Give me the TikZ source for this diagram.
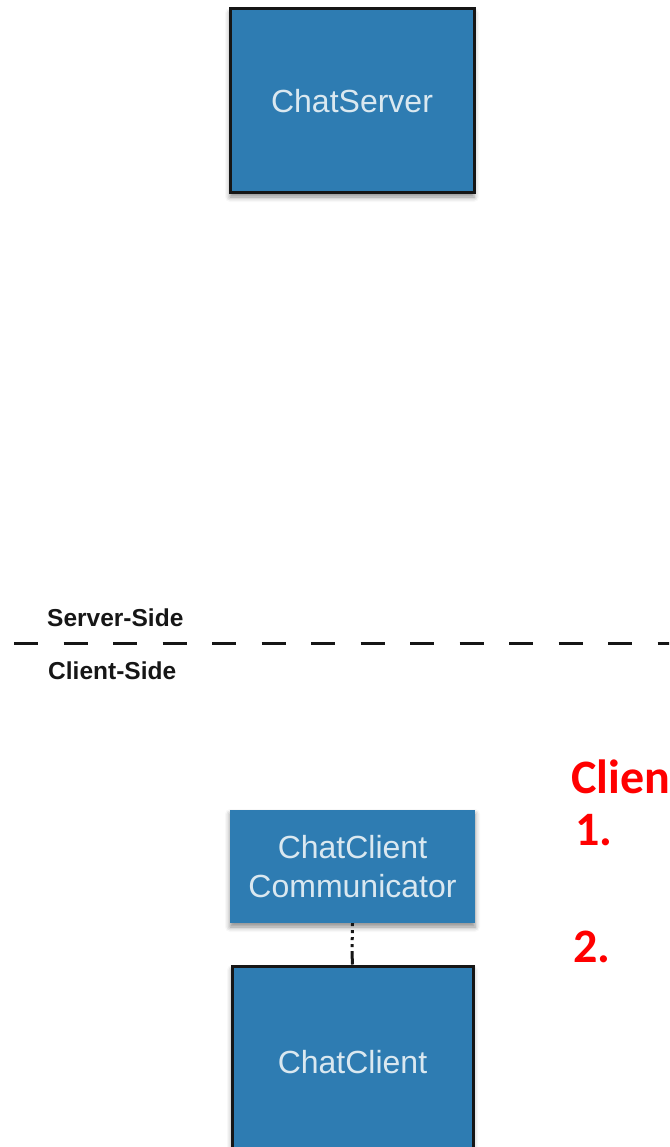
\documentclass[tikz,border=0pt]{standalone}
\usepackage{fontspec}
\setmainfont{Liberation Sans}
\newfontfamily\redfont{Carlito}
\usetikzlibrary{shadows.blur}
\definecolor{boxblue}{RGB}{46,124,178}
\definecolor{boxtext}{RGB}{218,232,240}
\definecolor{darkline}{RGB}{22,22,22}
\definecolor{redtext}{RGB}{255,0,0}
\tikzset{
  bluebox/.style={fill=boxblue, text=boxtext, inner sep=0pt, align=center,
    font=\fontsize{32}{39}\selectfont,
    blur shadow={shadow xshift=0pt, shadow yshift=-4pt, shadow blur radius=5pt, shadow opacity=45}},
  framed/.style={draw=darkline, line width=3pt},
  sidelabel/.style={anchor=west, inner sep=0pt, text=darkline, font=\fontsize{24.5}{28}\selectfont\bfseries},
  redlabel/.style={anchor=base west, inner sep=0pt, text=redtext, font=\redfont\fontsize{48}{52}\selectfont\bfseries},
  divider/.style={draw=darkline, line width=3pt, dash pattern=on 24pt off 25.5pt},
  link/.style={draw=darkline, line width=3pt}
}
\begin{document}
\begin{tikzpicture}[x=1pt,y=-1pt]
\useasboundingbox (0,0) rectangle (669,1147);
\clip (0,0) rectangle (669,1147);
\node[bluebox, framed, minimum width=244pt, minimum height=184pt] (server) at (352,101) {ChatServer};
\node[bluebox, minimum width=245pt, minimum height=113pt] (comm) at (352.5,866.5) {ChatClient\\Communicator};
\node[bluebox, framed, minimum width=241pt, minimum height=192pt] (client) at (352.5,1062) {ChatClient};
\coordinate (mid) at (352,953);
\draw[link, dash pattern=on 3pt off 4pt] (comm.south) -- (mid);
\draw[link] (mid) -- (client.north);
\coordinate (divL) at (14,643);
\coordinate (divR) at (675,643);
\draw[divider] (divL) -- (divR);
\node[sidelabel] (srvside) at (47,618) {Server-Side};
\node[sidelabel] (cliside) at (48,671) {Client-Side};
\node[redlabel] (clienthead) at (571,793) {Clien};
\node[redlabel] (one) at (575,845) {1.};
\node[redlabel] (two) at (573,962) {2.};
\end{tikzpicture}
\end{document}
